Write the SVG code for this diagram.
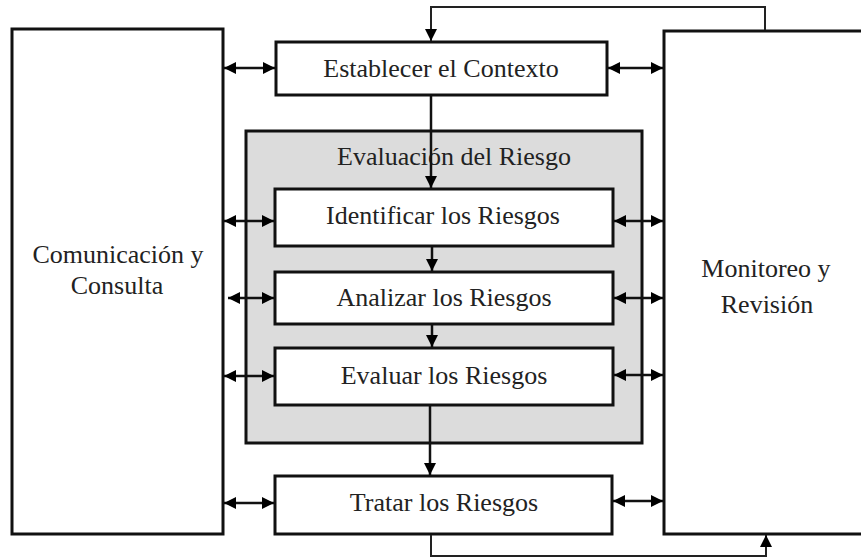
<svg xmlns="http://www.w3.org/2000/svg" width="861" height="558" viewBox="0 0 861 558">
  <defs>
    <marker id="ah" viewBox="0 0 10 10" refX="10" refY="5" markerWidth="12" markerHeight="12" markerUnits="userSpaceOnUse" orient="auto-start-reverse">
      <path d="M0,0 L10,5 L0,10 z" fill="#000"/>
    </marker>
  </defs>
  <style>
    .box { fill: #fff; stroke: #111; stroke-width: 3; }
    .grp { fill: #dcdcdc; stroke: #111; stroke-width: 3; }
    .t { font-family: "Liberation Serif", "Times New Roman", serif; font-size: 26px; fill: #222; text-anchor: middle; }
    .c { fill: none; stroke: #111; stroke-width: 2.5; }
    .d { marker-start: url(#ah); marker-end: url(#ah); }
    .e { marker-end: url(#ah); }
    .loop { fill: none; stroke: #222; stroke-width: 2; }
  </style>
  <rect width="861" height="558" fill="#fff"/>

  <g id="comunicacion">
    <rect class="box" x="12" y="29" width="211" height="505"/>
    <text class="t" x="118" y="263">Comunicación y</text>
    <text class="t" x="117" y="294">Consulta</text>
  </g>

  <g id="monitoreo">
    <rect class="box" x="664" y="31" width="220" height="503"/>
    <text class="t" x="766" y="277">Monitoreo y</text>
    <text class="t" x="767" y="313">Revisión</text>
  </g>

  <g id="evaluacion">
    <rect class="grp" x="246" y="131" width="396" height="312"/>
    <text class="t" x="454" y="165">Evaluación del Riesgo</text>
  </g>

  <g id="establecer">
    <rect class="box" x="276" y="42" width="331" height="53"/>
    <text class="t" x="441" y="77">Establecer el Contexto</text>
  </g>

  <g id="identificar">
    <rect class="box" x="275" y="189" width="338" height="57"/>
    <text class="t" x="443" y="224">Identificar los Riesgos</text>
  </g>

  <g id="analizar">
    <rect class="box" x="275" y="272" width="338" height="52"/>
    <text class="t" x="444" y="306">Analizar los Riesgos</text>
  </g>

  <g id="evaluar">
    <rect class="box" x="275" y="348" width="338" height="57"/>
    <text class="t" x="444" y="384">Evaluar los Riesgos</text>
  </g>

  <g id="tratar">
    <rect class="box" x="275" y="476" width="337" height="58"/>
    <text class="t" x="444" y="511">Tratar los Riesgos</text>
  </g>

  <g id="connectors">
    <line class="c d" x1="224" y1="68" x2="275" y2="68"/>
    <line class="c d" x1="224" y1="221" x2="274" y2="221"/>
    <line class="c d" x1="228" y1="298" x2="274" y2="298"/>
    <line class="c d" x1="224" y1="376" x2="274" y2="376"/>
    <line class="c d" x1="224" y1="503" x2="274" y2="503"/>
    <line class="c d" x1="608" y1="68" x2="663" y2="68"/>
    <line class="c d" x1="614" y1="221" x2="663" y2="221"/>
    <line class="c d" x1="614" y1="298" x2="663" y2="298"/>
    <line class="c d" x1="614" y1="375" x2="663" y2="375"/>
    <line class="c d" x1="613" y1="501" x2="663" y2="501"/>
    <line class="c e" x1="431" y1="96" x2="431" y2="188"/>
    <line class="c e" x1="432" y1="247" x2="432" y2="271"/>
    <line class="c e" x1="432" y1="325" x2="432" y2="347"/>
    <line class="c e" x1="430" y1="406" x2="430" y2="475"/>
    <path class="loop e" d="M765,30 V7 H431 V41"/>
    <path class="loop e" d="M431,535 V556 H766 V535"/>
  </g>
</svg>
